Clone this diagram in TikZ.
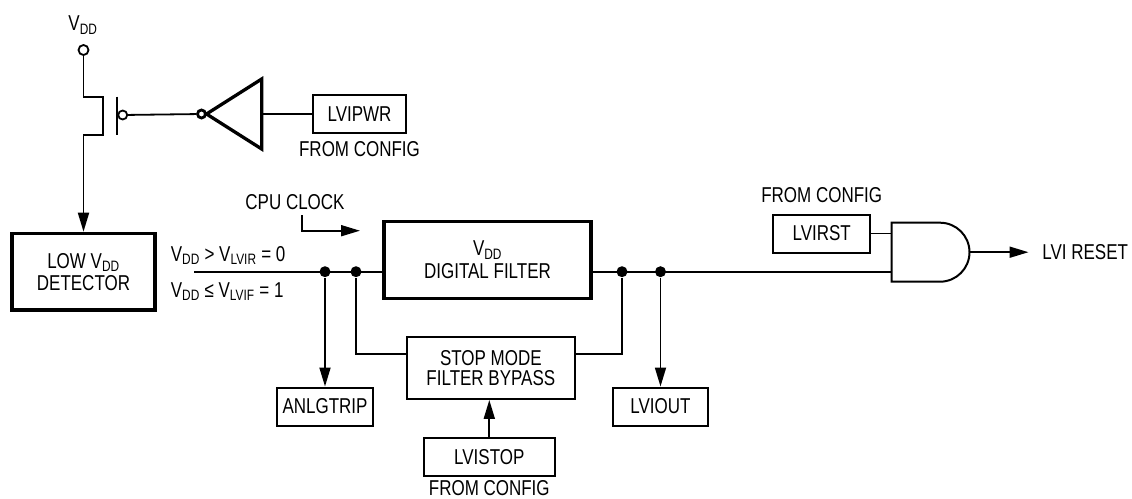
\documentclass[tikz,border=0pt]{standalone}
\usepackage{fontspec}
\setmainfont{Liberation Sans}[FakeStretch=0.79]
\usetikzlibrary{arrows.meta,positioning}

\begin{document}
\begin{tikzpicture}[
  x=1pt, y=-1pt,
  font=\fontsize{21.5}{20}\selectfont,
  line width=1.8pt,
  box/.style={rectangle, draw, line width=2pt, inner sep=0pt, minimum height=38pt, align=center},
  bigbox/.style={box, line width=3.3pt},
  dot/.style={circle, fill, inner sep=0pt, minimum size=11pt},
  opencirc/.style={circle, draw, fill=white, inner sep=0pt, minimum size=10pt},
  >={Triangle[length=19pt,width=11pt]}
]
\useasboundingbox (0,0) rectangle (1132,498);

% Supply switch
\node (vddlbl) at (83,25) {V\textsubscript{DD}};
\node (vddpin) [opencirc] at (83.5,50) {};
\coordinate (drain) at (102.7,96.7);
\coordinate (source) at (83.5,135);
\draw (116.7,96.7) -- (116.7,135);
\node (gatebub) [opencirc, minimum size=9pt] at (122.7,115) {};

% Inverter and power enable
\coordinate (invtip) at (206.5,114);
\coordinate (invin) at (261.7,114);
\node (invbub) [opencirc, minimum size=8pt, line width=2.8pt] at (201.5,114) {};
\draw[line width=3.3pt, line join=miter] (invtip) -- (261.7,79) -- (261.7,149) -- cycle;
\node (lvipwr) [box, minimum width=93pt] at (359.5,114) {LVIPWR};
\node (cfgpwr) [below=3pt of lvipwr] {FROM CONFIG};

% Detector
\node (detector) [bigbox, minimum width=143pt, minimum height=76.7pt] at (83.5,271.7) {LOW V\textsubscript{DD}\\[2pt]DETECTOR};
\coordinate (lvdout) at (194.3,271.7);
\node (vlvir) [anchor=base west, inner sep=0pt] at (170,261.7) {V\textsubscript{DD} > V\textsubscript{LVIR} = 0};
\node (vlvif) [anchor=base west, inner sep=0pt] at (170,297.5) {V\textsubscript{DD} ≤ V\textsubscript{LVIF} = 1};

% Filter path
\node (filter) [bigbox, minimum width=207pt, minimum height=76.6pt] at (487.5,260) {V\textsubscript{DD}\\[3pt]DIGITAL FILTER};
\node (cpuclk) at (295,201.7) {CPU CLOCK};
\coordinate (clkstart) at (301.7,215);
\coordinate (clkin) at (360,230.7);
\node (tap1) [dot] at (325,271.7) {};
\node (tap2) [dot] at (356,271.7) {};
\node (tap3) [dot] at (622,271.7) {};
\node (tap4) [dot] at (660.5,271.7) {};
\node (bypass) [box, minimum width=168.3pt, minimum height=62.3pt] at (490.8,367.8) {STOP MODE\\FILTER BYPASS};
\node (anlgtrip) [box, minimum width=96.7pt] at (325,406.5) {ANLGTRIP};
\node (lviout) [box, minimum width=95.7pt] at (660.5,406.5) {LVIOUT};
\node (lvistop) [box, minimum width=131.3pt] at (489.3,456.7) {LVISTOP};
\node (cfgstop) [below=3pt of lvistop, inner sep=0pt] {FROM CONFIG};

% Reset gate
\node (lvirst) [box, minimum width=96.7pt] at (821.7,233.5) {LVIRST};
\node (cfgrst) [above=7pt of lvirst] {FROM CONFIG};
\coordinate (andin1) at (891.7,233.5);
\coordinate (andin2) at (891.7,271.7);
\coordinate (andout) at (969.5,252.2);
\draw[line width=2pt] (891.7,222.7) -- (940,222.7) arc[start angle=-90, end angle=90, radius=29.5] -- (891.7,281.7) -- cycle;
\node (lvireset) [anchor=west, inner sep=0pt] at (1041.5,252.2) {LVI RESET};

% Connections
\draw[->] (vddpin) |- (drain) |- (source) -- (detector);
\draw (gatebub) -- (invbub);
\draw (lvipwr) -- (invin);
\draw[->] (clkstart) |- (clkin);
\draw (lvdout) -- (lvdout -| filter.west);
\draw (lvdout -| filter.east) -- (andin2);
\draw[->] (tap1) -- (anlgtrip);
\draw[->] (tap4) -- (lviout);
\draw (tap2) |- ([yshift=14pt]bypass.west);
\draw ([yshift=14pt]bypass.east) -| (tap3);
\draw[->] (lvistop) -- (lvistop |- bypass.south);
\draw (lvirst) -- (andin1);
\draw[->, shorten >=13pt] (andout) -- (lvireset.west);

\end{tikzpicture}
\end{document}
